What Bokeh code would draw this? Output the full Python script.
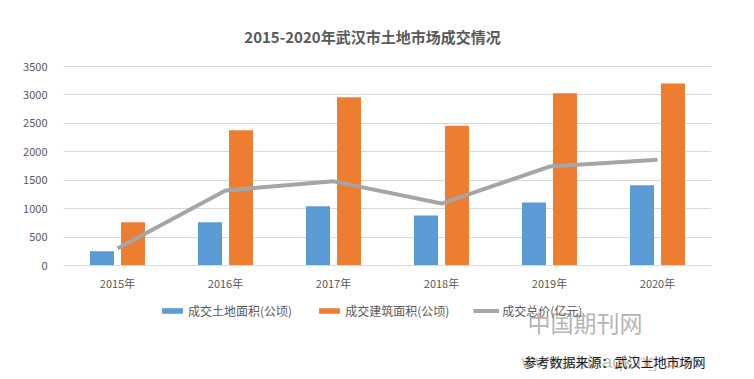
from bokeh.plotting import figure
from bokeh.models import (ColumnDataSource, FactorRange, Range1d, FixedTicker,
                          Legend, LegendItem, Label)
from bokeh.transform import dodge
from bokeh.embed import file_html
from bokeh.resources import INLINE

# ---- data ----
years = ["2015年", "2016年", "2017年", "2018年", "2019年", "2020年"]
land_area = [250, 760, 1040, 880, 1110, 1410]          # 成交土地面积(公顷)
building_area = [760, 2380, 2960, 2460, 3030, 3200]    # 成交建筑面积(公顷)
total_price = [300, 1320, 1480, 1090, 1740, 1860]      # 成交总价(亿元)
y_ticks = [0, 500, 1000, 1500, 2000, 2500, 3000, 3500]

title_text = "2015-2020年武汉市土地市场成交情况"
series_names = ["成交土地面积(公顷)", "成交建筑面积(公顷)", "成交总价(亿元)"]
source_text = "参考数据来源：武汉土地市场网"
watermark_cn = "中国期刊网"
watermark_url = "www.chinaqking.com"

FONT = "Noto Sans CJK SC"
BLUE, ORANGE, GRAY = "#5B9BD5", "#ED7D31", "#A5A5A5"

# ---- layout (pixels) ----
W, H = 746, 371
LEFT, FRAME_W = 63, 648
Y_TOP_PX, Y_ZERO_PX = 66, 265          # pixel rows of 3500 and 0
k = (Y_ZERO_PX - Y_TOP_PX) / 3500.0    # px per unit
y_lo = -(H - Y_ZERO_PX) / k
y_hi = 3500 + Y_TOP_PX / k

src = ColumnDataSource(dict(x=years, land=land_area, bld=building_area, total=total_price))

p = figure(width=W, height=H, x_range=FactorRange(*years), y_range=Range1d(y_lo, y_hi),
           output_backend="svg", toolbar_location=None,
           min_border_left=LEFT, min_border_right=W - LEFT - FRAME_W,
           min_border_top=0, min_border_bottom=0)
p.outline_line_color = None
p.background_fill_color = "white"
p.border_fill_color = "white"

r1 = p.vbar(x=dodge("x", -0.1435, range=p.x_range), top="land", width=0.222,
            source=src, fill_color=BLUE, line_color=None)
r2 = p.vbar(x=dodge("x", 0.1435, range=p.x_range), top="bld", width=0.222,
            source=src, fill_color=ORANGE, line_color=None)
r3 = p.line(x="x", y="total", source=src, line_color=GRAY, line_width=4)

# axes
p.yaxis.ticker = FixedTicker(ticks=y_ticks)
p.yaxis.axis_line_color = None
p.yaxis.major_tick_line_color = None
p.yaxis.minor_tick_line_color = None
p.yaxis.major_label_standoff = 10
p.xaxis.fixed_location = 0
p.xaxis.axis_line_color = "#D9D9D9"
p.xaxis.major_tick_line_color = None
p.xaxis.minor_tick_line_color = None
p.xaxis.major_label_standoff = 3
for ax in (p.xaxis, p.yaxis):
    ax.major_label_text_font = FONT
    ax.major_label_text_font_size = "11px"
    ax.major_label_text_color = "#595959"
p.xgrid.grid_line_color = None
p.ygrid.grid_line_color = "#D9D9D9"
p.ygrid.ticker = FixedTicker(ticks=y_ticks)

# legend
legend = Legend(items=[LegendItem(label=series_names[0], renderers=[r1]),
                       LegendItem(label=series_names[1], renderers=[r2]),
                       LegendItem(label=series_names[2], renderers=[r3])],
                orientation="horizontal", location=(96, 52),
                glyph_width=26, glyph_height=7, label_standoff=3, spacing=24,
                label_text_font=FONT, label_text_font_size="12px",
                label_text_color="#595959", padding=0, margin=0,
                border_line_alpha=0, background_fill_alpha=0, label_height=12)
p.add_layout(legend, "center")

def fx(px):   # page x -> frame screen x
    return px - LEFT

def fy(py):   # page y -> frame screen y (from bottom)
    return H - py

# title
p.add_layout(Label(x=fx(372), y=fy(36), x_units="screen", y_units="screen", text=title_text,
                   text_font=FONT, text_font_size="15px", text_font_style="bold",
                   text_color="#595959", text_align="center", text_baseline="middle"))

# watermark
p.add_layout(Label(x=fx(527), y=fy(321), x_units="screen", y_units="screen", text=watermark_cn,
                   text_font=FONT, text_font_size="23px", text_color="#A0A0A0",
                   text_alpha=0.8, text_align="left", text_baseline="middle"))
p.add_layout(Label(x=fx(521), y=fy(361), x_units="screen", y_units="screen", text=watermark_url,
                   text_font="Liberation Sans", text_font_size="19px", text_color="#8A8A8A",
                   text_alpha=0.55, text_align="left", text_baseline="middle"))

# source note
p.add_layout(Label(x=fx(523), y=fy(361), x_units="screen", y_units="screen", text=source_text,
                   text_font=FONT, text_font_size="13px", text_color="#1A1A1A",
                   text_align="left", text_baseline="middle"))

open("out.html", "w").write(file_html(p, INLINE))
